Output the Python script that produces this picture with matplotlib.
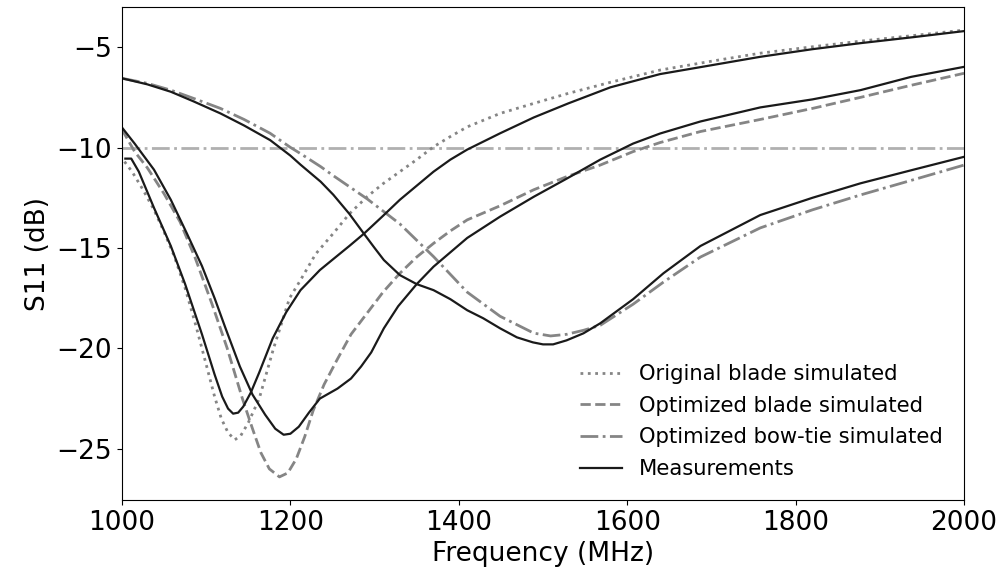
import matplotlib
matplotlib.use("Agg")
import matplotlib.pyplot as plt

# Original blade simulated (dotted)
f_orig_sim = [1003, 1012, 1025, 1038, 1050, 1062, 1075, 1088, 1100, 1110, 1118, 1126, 1134, 1141, 1150,
              1163, 1180, 1199, 1212, 1230, 1251, 1270, 1291, 1310, 1330, 1350, 1370, 1390, 1410, 1449,
              1489, 1530, 1580, 1639, 1700, 1758, 1820, 1877, 1940, 2000]
s_orig_sim = [-10.7, -11.2, -12.1, -13.1, -14.2, -15.4, -17.0, -18.9, -20.8, -22.4, -23.5, -24.2, -24.55, -24.35, -23.7,
              -22.5, -20.0, -17.5, -16.6, -15.3, -14.27, -13.3, -12.45, -11.8, -11.2, -10.6, -9.96, -9.45, -8.97, -8.3,
              -7.8, -7.3, -6.75, -6.14, -5.7, -5.3, -4.98, -4.7, -4.42, -4.15]

# Measurement, original blade
f_orig_meas = [1004, 1011, 1020, 1038, 1058, 1075, 1095, 1110, 1119, 1126, 1132, 1138, 1144, 1153, 1163,
               1179, 1195, 1212, 1235, 1251, 1270, 1287, 1310, 1330, 1350, 1370, 1390, 1410, 1449, 1489,
               1530, 1580, 1639, 1700, 1758, 1820, 1877, 1940, 2000]
s_orig_meas = [-10.55, -10.55, -11.2, -13.0, -14.9, -16.8, -19.3, -21.3, -22.4, -23.0, -23.25, -23.2, -22.9, -22.2, -21.2,
               -19.5, -18.2, -17.1, -16.1, -15.55, -14.9, -14.3, -13.4, -12.6, -11.9, -11.2, -10.6, -10.1, -9.29, -8.5,
               -7.8, -7.0, -6.34, -5.9, -5.48, -5.1, -4.8, -4.5, -4.2]

# Optimized blade simulated (dashed)
f_opt_sim = [1000, 1015, 1030, 1050, 1069, 1087, 1107, 1125, 1143, 1155, 1165, 1175, 1187, 1197, 1207,
             1217, 1227, 1240, 1255, 1272, 1291, 1310, 1330, 1350, 1370, 1390, 1410, 1449, 1489, 1528,
             1568, 1607, 1639, 1687, 1758, 1820, 1877, 1937, 2000]
s_opt_sim = [-9.1, -10.2, -11.0, -12.3, -13.7, -15.5, -17.8, -20.0, -22.5, -24.0, -25.2, -26.0, -26.4, -26.2, -25.5,
             -24.4, -23.1, -21.8, -20.6, -19.3, -18.25, -17.2, -16.26, -15.45, -14.77, -14.15, -13.6, -12.9, -12.1, -11.45,
             -10.87, -10.2, -9.75, -9.2, -8.6, -8.05, -7.5, -6.9, -6.3]

# Measurement, optimized blade
f_opt_meas = [1000, 1015, 1038, 1058, 1077, 1095, 1110, 1123, 1140, 1155, 1170, 1182, 1192, 1200, 1210,
              1222, 1235, 1256, 1272, 1284, 1296, 1311, 1328, 1350, 1370, 1410, 1449, 1489, 1528, 1568,
              1607, 1639, 1687, 1758, 1820, 1877, 1937, 2000]
s_opt_meas = [-9.0, -9.8, -11.1, -12.6, -14.27, -15.9, -17.5, -19.0, -20.9, -22.3, -23.3, -24.0, -24.3, -24.25, -23.9,
              -23.2, -22.5, -22.0, -21.5, -20.9, -20.2, -19.0, -17.9, -16.8, -15.93, -14.5, -13.44, -12.45, -11.55, -10.6,
              -9.8, -9.3, -8.7, -8.0, -7.6, -7.14, -6.48, -5.98]

# Optimized bow-tie simulated (dash-dot)
f_bow_sim = [1000, 1030, 1058, 1085, 1117, 1145, 1176, 1200, 1212, 1236, 1251, 1291, 1330, 1370, 1410,
             1449, 1489, 1509, 1528, 1548, 1568, 1607, 1643, 1687, 1758, 1820, 1877, 1940, 2000]
s_bow_sim = [-6.55, -6.8, -7.14, -7.55, -8.05, -8.6, -9.29, -9.99, -10.3, -10.95, -11.4, -12.55, -13.8, -15.43, -17.2,
             -18.4, -19.24, -19.38, -19.3, -19.1, -18.85, -17.8, -16.7, -15.45, -14.0, -13.1, -12.36, -11.6, -10.87]

# Measurement, bow-tie
f_bow_meas = [1000, 1030, 1058, 1085, 1117, 1145, 1176, 1200, 1212, 1236, 1251, 1270, 1287, 1300, 1311,
              1330, 1350, 1370, 1390, 1410, 1429, 1449, 1469, 1488, 1500, 1512, 1528, 1548, 1568, 1607,
              1643, 1687, 1758, 1820, 1877, 1940, 2000]
s_bow_meas = [-6.55, -6.85, -7.22, -7.7, -8.3, -8.9, -9.63, -10.4, -10.85, -11.7, -12.35, -13.3, -14.27, -15.0, -15.6,
              -16.35, -16.8, -17.1, -17.55, -18.1, -18.5, -19.0, -19.45, -19.7, -19.8, -19.8, -19.6, -19.25, -18.75, -17.55,
              -16.26, -14.9, -13.36, -12.5, -11.78, -11.1, -10.46]

threshold = -10
legend_labels = ["Original blade simulated", "Optimized blade simulated",
                 "Optimized bow-tie simulated", "Measurements"]

fig = plt.figure(figsize=(9.99, 5.70), dpi=100)
ax = fig.add_axes([0.1221, 0.1228, 0.8429, 0.8649])

grey = "#858585"
ax.plot(f_orig_sim, s_orig_sim, linestyle=":", color=grey, lw=2, label=legend_labels[0])
ax.plot(f_opt_sim, s_opt_sim, linestyle="--", color=grey, lw=2, label=legend_labels[1])
ax.plot(f_bow_sim, s_bow_sim, linestyle="-.", color=grey, lw=2, label=legend_labels[2])
ax.plot(f_orig_meas, s_orig_meas, "-", color="#1a1a1a", lw=1.6, label=legend_labels[3])
ax.plot(f_opt_meas, s_opt_meas, "-", color="#1a1a1a", lw=1.6)
ax.plot(f_bow_meas, s_bow_meas, "-", color="#1a1a1a", lw=1.6)
ax.axhline(threshold, linestyle="-.", color="#b0b0b0", lw=2, zorder=0)

ax.set_xlim(1000, 2000)
ax.set_ylim(-27.55, -3.0)
ax.set_xticks([1000, 1200, 1400, 1600, 1800, 2000])
ax.set_yticks([-25, -20, -15, -10, -5])
ax.tick_params(labelsize=19)
ax.set_xlabel("Frequency (MHz)", fontsize=19)
ax.set_ylabel("S11 (dB)", fontsize=19)
ax.legend(loc="lower right", frameon=False, fontsize=15.2, labelspacing=0.55,
          borderaxespad=0.6)

fig.savefig("out.png", dpi=100)
